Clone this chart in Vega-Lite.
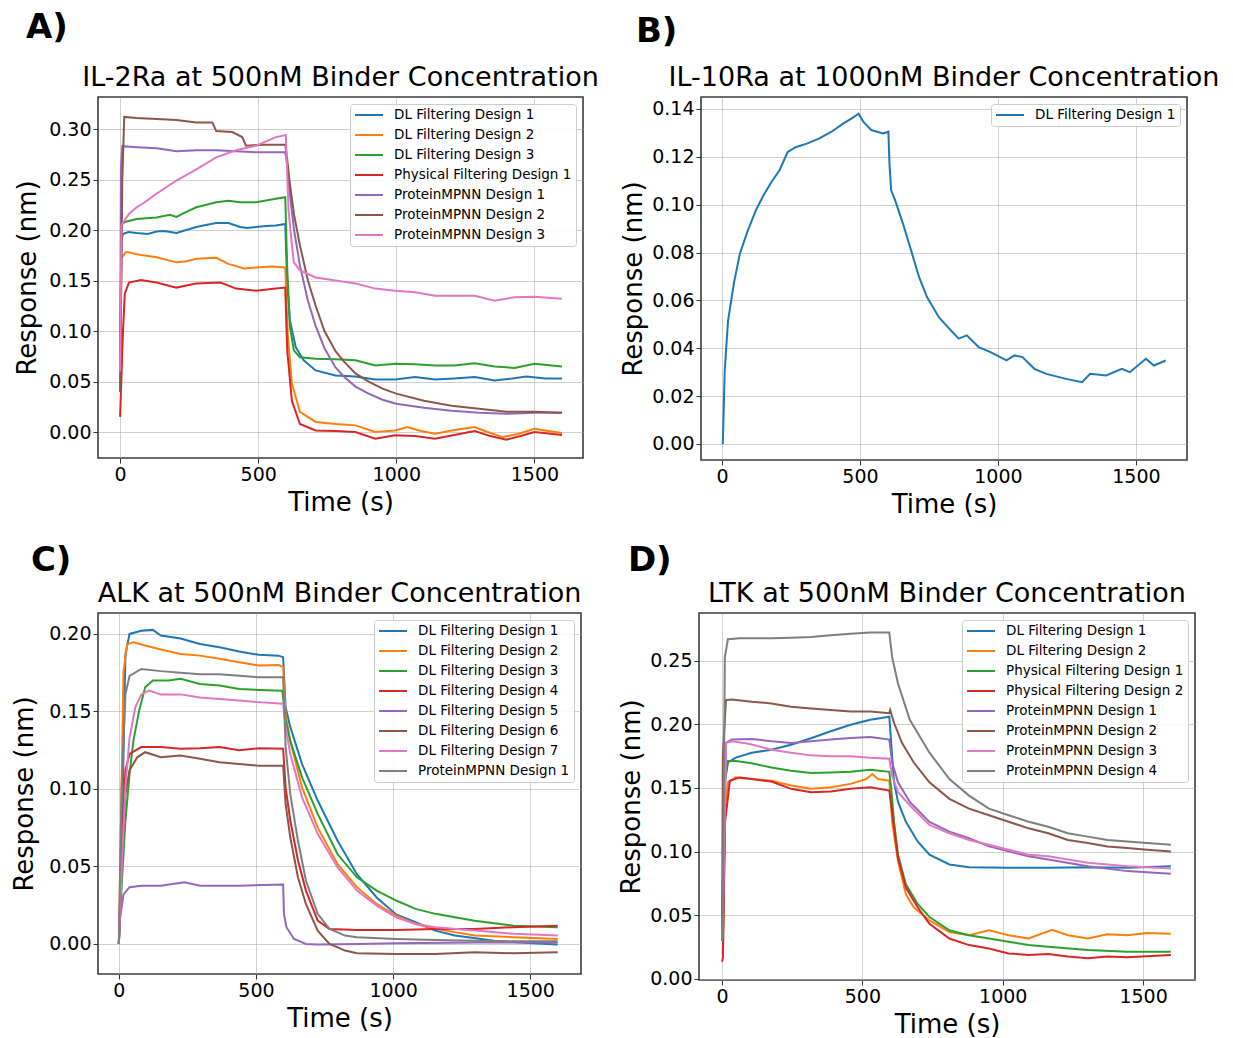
{
"$schema": "https://vega.github.io/schema/vega-lite/v6.json",
"background": "white",
"padding": {"left": 10, "top": 11, "right": 4, "bottom": 2},
"config": {
  "font": "DejaVu Sans",
  "view": {"stroke": "#3c3c3c", "strokeWidth": 1.6},
  "axis": {"labelFont": "DejaVu Sans", "labelFontSize": 19, "labelColor": "#000", "titleFont": "DejaVu Sans", "titleFontSize": 26, "titleFontWeight": "normal", "titleColor": "#000", "gridColor": "#a8a8a8", "gridOpacity": 0.6, "gridWidth": 0.9, "tickColor": "#333", "tickSize": 5, "tickWidth": 1, "domain": false, "labelPadding": 2, "titlePadding": 5},
  "title": {"font": "DejaVu Sans", "fontSize": 27, "fontWeight": "normal", "color": "#000", "offset": 5, "frame": "group", "anchor": "middle"},
  "legend": {"labelFont": "DejaVu Sans", "labelFontSize": 13.5, "labelColor": "#000", "labelLimit": 400, "symbolType": "M-1,0L3.67,0", "symbolSize": 144, "symbolStrokeWidth": 2, "labelOffset": 26, "rowPadding": 6, "padding": 4, "fillColor": "rgba(255,255,255,0.85)", "strokeColor": "#cccccc", "cornerRadius": 3, "offset": 7, "title": null},
  "line": {"strokeWidth": 2}
},
"datasets": {
"A": [
{"s":"DL Filtering Design 1","t":0,"v":0.06},{"s":"DL Filtering Design 1","t":5,"v":0.19},{"s":"DL Filtering Design 1","t":10,"v":0.196},{"s":"DL Filtering Design 1","t":30,"v":0.198},{"s":"DL Filtering Design 1","t":60,"v":0.197},{"s":"DL Filtering Design 1","t":100,"v":0.196},{"s":"DL Filtering Design 1","t":132,"v":0.1985},{"s":"DL Filtering Design 1","t":160,"v":0.199},{"s":"DL Filtering Design 1","t":204,"v":0.197},{"s":"DL Filtering Design 1","t":240,"v":0.2},{"s":"DL Filtering Design 1","t":276,"v":0.203},{"s":"DL Filtering Design 1","t":310,"v":0.205},{"s":"DL Filtering Design 1","t":348,"v":0.207},{"s":"DL Filtering Design 1","t":392,"v":0.207},{"s":"DL Filtering Design 1","t":435,"v":0.203},{"s":"DL Filtering Design 1","t":460,"v":0.202},{"s":"DL Filtering Design 1","t":492,"v":0.203},{"s":"DL Filtering Design 1","t":530,"v":0.204},{"s":"DL Filtering Design 1","t":564,"v":0.2045},{"s":"DL Filtering Design 1","t":598,"v":0.206},{"s":"DL Filtering Design 1","t":605,"v":0.147},{"s":"DL Filtering Design 1","t":615,"v":0.11},{"s":"DL Filtering Design 1","t":636,"v":0.084},{"s":"DL Filtering Design 1","t":665,"v":0.071},{"s":"DL Filtering Design 1","t":708,"v":0.061},{"s":"DL Filtering Design 1","t":780,"v":0.056},{"s":"DL Filtering Design 1","t":852,"v":0.055},{"s":"DL Filtering Design 1","t":924,"v":0.052},{"s":"DL Filtering Design 1","t":996,"v":0.052},{"s":"DL Filtering Design 1","t":1068,"v":0.0545},{"s":"DL Filtering Design 1","t":1140,"v":0.052},{"s":"DL Filtering Design 1","t":1210,"v":0.053},{"s":"DL Filtering Design 1","t":1284,"v":0.0545},{"s":"DL Filtering Design 1","t":1356,"v":0.051},{"s":"DL Filtering Design 1","t":1420,"v":0.053},{"s":"DL Filtering Design 1","t":1471,"v":0.055},{"s":"DL Filtering Design 1","t":1540,"v":0.053},{"s":"DL Filtering Design 1","t":1600,"v":0.053},
{"s":"DL Filtering Design 2","t":0,"v":0.04},{"s":"DL Filtering Design 2","t":5,"v":0.172},{"s":"DL Filtering Design 2","t":20,"v":0.178},{"s":"DL Filtering Design 2","t":32,"v":0.178},{"s":"DL Filtering Design 2","t":60,"v":0.176},{"s":"DL Filtering Design 2","t":132,"v":0.173},{"s":"DL Filtering Design 2","t":204,"v":0.168},{"s":"DL Filtering Design 2","t":240,"v":0.169},{"s":"DL Filtering Design 2","t":276,"v":0.1715},{"s":"DL Filtering Design 2","t":348,"v":0.1725},{"s":"DL Filtering Design 2","t":392,"v":0.1665},{"s":"DL Filtering Design 2","t":449,"v":0.162},{"s":"DL Filtering Design 2","t":492,"v":0.163},{"s":"DL Filtering Design 2","t":550,"v":0.164},{"s":"DL Filtering Design 2","t":598,"v":0.163},{"s":"DL Filtering Design 2","t":607,"v":0.097},{"s":"DL Filtering Design 2","t":622,"v":0.048},{"s":"DL Filtering Design 2","t":651,"v":0.02},{"s":"DL Filtering Design 2","t":708,"v":0.01},{"s":"DL Filtering Design 2","t":780,"v":0.008},{"s":"DL Filtering Design 2","t":852,"v":0.0066},{"s":"DL Filtering Design 2","t":924,"v":0.0},{"s":"DL Filtering Design 2","t":996,"v":0.0016},{"s":"DL Filtering Design 2","t":1040,"v":0.005},{"s":"DL Filtering Design 2","t":1090,"v":0.001},{"s":"DL Filtering Design 2","t":1140,"v":-0.0016},{"s":"DL Filtering Design 2","t":1210,"v":0.002},{"s":"DL Filtering Design 2","t":1284,"v":0.005},{"s":"DL Filtering Design 2","t":1330,"v":0.0},{"s":"DL Filtering Design 2","t":1385,"v":-0.005},{"s":"DL Filtering Design 2","t":1440,"v":-0.002},{"s":"DL Filtering Design 2","t":1500,"v":0.0033},{"s":"DL Filtering Design 2","t":1550,"v":0.001},{"s":"DL Filtering Design 2","t":1600,"v":-0.001},
{"s":"DL Filtering Design 3","t":0,"v":0.07},{"s":"DL Filtering Design 3","t":5,"v":0.205},{"s":"DL Filtering Design 3","t":17,"v":0.208},{"s":"DL Filtering Design 3","t":60,"v":0.211},{"s":"DL Filtering Design 3","t":132,"v":0.2125},{"s":"DL Filtering Design 3","t":180,"v":0.215},{"s":"DL Filtering Design 3","t":204,"v":0.213},{"s":"DL Filtering Design 3","t":240,"v":0.218},{"s":"DL Filtering Design 3","t":276,"v":0.2225},{"s":"DL Filtering Design 3","t":348,"v":0.2275},{"s":"DL Filtering Design 3","t":392,"v":0.229},{"s":"DL Filtering Design 3","t":435,"v":0.2275},{"s":"DL Filtering Design 3","t":492,"v":0.2275},{"s":"DL Filtering Design 3","t":564,"v":0.231},{"s":"DL Filtering Design 3","t":598,"v":0.2325},{"s":"DL Filtering Design 3","t":605,"v":0.163},{"s":"DL Filtering Design 3","t":615,"v":0.104},{"s":"DL Filtering Design 3","t":629,"v":0.081},{"s":"DL Filtering Design 3","t":651,"v":0.074},{"s":"DL Filtering Design 3","t":708,"v":0.0725},{"s":"DL Filtering Design 3","t":780,"v":0.072},{"s":"DL Filtering Design 3","t":852,"v":0.071},{"s":"DL Filtering Design 3","t":924,"v":0.066},{"s":"DL Filtering Design 3","t":996,"v":0.0675},{"s":"DL Filtering Design 3","t":1068,"v":0.067},{"s":"DL Filtering Design 3","t":1140,"v":0.066},{"s":"DL Filtering Design 3","t":1210,"v":0.066},{"s":"DL Filtering Design 3","t":1284,"v":0.068},{"s":"DL Filtering Design 3","t":1356,"v":0.065},{"s":"DL Filtering Design 3","t":1428,"v":0.0635},{"s":"DL Filtering Design 3","t":1500,"v":0.0675},{"s":"DL Filtering Design 3","t":1600,"v":0.065},
{"s":"Physical Filtering Design 1","t":0,"v":0.015},{"s":"Physical Filtering Design 1","t":10,"v":0.097},{"s":"Physical Filtering Design 1","t":17,"v":0.137},{"s":"Physical Filtering Design 1","t":32,"v":0.148},{"s":"Physical Filtering Design 1","t":75,"v":0.1505},{"s":"Physical Filtering Design 1","t":132,"v":0.148},{"s":"Physical Filtering Design 1","t":204,"v":0.143},{"s":"Physical Filtering Design 1","t":240,"v":0.145},{"s":"Physical Filtering Design 1","t":276,"v":0.147},{"s":"Physical Filtering Design 1","t":363,"v":0.148},{"s":"Physical Filtering Design 1","t":420,"v":0.142},{"s":"Physical Filtering Design 1","t":492,"v":0.14},{"s":"Physical Filtering Design 1","t":564,"v":0.142},{"s":"Physical Filtering Design 1","t":598,"v":0.143},{"s":"Physical Filtering Design 1","t":605,"v":0.081},{"s":"Physical Filtering Design 1","t":622,"v":0.031},{"s":"Physical Filtering Design 1","t":651,"v":0.008},{"s":"Physical Filtering Design 1","t":708,"v":0.0016},{"s":"Physical Filtering Design 1","t":780,"v":0.001},{"s":"Physical Filtering Design 1","t":852,"v":0.0},{"s":"Physical Filtering Design 1","t":924,"v":-0.0066},{"s":"Physical Filtering Design 1","t":996,"v":-0.0033},{"s":"Physical Filtering Design 1","t":1068,"v":-0.004},{"s":"Physical Filtering Design 1","t":1140,"v":-0.0066},{"s":"Physical Filtering Design 1","t":1210,"v":-0.003},{"s":"Physical Filtering Design 1","t":1284,"v":0.001},{"s":"Physical Filtering Design 1","t":1340,"v":-0.004},{"s":"Physical Filtering Design 1","t":1399,"v":-0.0076},{"s":"Physical Filtering Design 1","t":1450,"v":-0.004},{"s":"Physical Filtering Design 1","t":1500,"v":0.0},{"s":"Physical Filtering Design 1","t":1600,"v":-0.003},
{"s":"ProteinMPNN Design 1","t":0,"v":0.06},{"s":"ProteinMPNN Design 1","t":3,"v":0.26},{"s":"ProteinMPNN Design 1","t":8,"v":0.283},{"s":"ProteinMPNN Design 1","t":60,"v":0.282},{"s":"ProteinMPNN Design 1","t":132,"v":0.281},{"s":"ProteinMPNN Design 1","t":204,"v":0.278},{"s":"ProteinMPNN Design 1","t":276,"v":0.279},{"s":"ProteinMPNN Design 1","t":348,"v":0.279},{"s":"ProteinMPNN Design 1","t":420,"v":0.278},{"s":"ProteinMPNN Design 1","t":492,"v":0.277},{"s":"ProteinMPNN Design 1","t":564,"v":0.277},{"s":"ProteinMPNN Design 1","t":598,"v":0.277},{"s":"ProteinMPNN Design 1","t":605,"v":0.265},{"s":"ProteinMPNN Design 1","t":615,"v":0.235},{"s":"ProteinMPNN Design 1","t":630,"v":0.2},{"s":"ProteinMPNN Design 1","t":651,"v":0.165},{"s":"ProteinMPNN Design 1","t":680,"v":0.13},{"s":"ProteinMPNN Design 1","t":708,"v":0.105},{"s":"ProteinMPNN Design 1","t":740,"v":0.083},{"s":"ProteinMPNN Design 1","t":780,"v":0.064},{"s":"ProteinMPNN Design 1","t":810,"v":0.055},{"s":"ProteinMPNN Design 1","t":852,"v":0.045},{"s":"ProteinMPNN Design 1","t":900,"v":0.038},{"s":"ProteinMPNN Design 1","t":950,"v":0.032},{"s":"ProteinMPNN Design 1","t":1000,"v":0.028},{"s":"ProteinMPNN Design 1","t":1100,"v":0.024},{"s":"ProteinMPNN Design 1","t":1200,"v":0.021},{"s":"ProteinMPNN Design 1","t":1300,"v":0.019},{"s":"ProteinMPNN Design 1","t":1400,"v":0.018},{"s":"ProteinMPNN Design 1","t":1500,"v":0.019},{"s":"ProteinMPNN Design 1","t":1600,"v":0.019},
{"s":"ProteinMPNN Design 2","t":0,"v":0.04},{"s":"ProteinMPNN Design 2","t":8,"v":0.25},{"s":"ProteinMPNN Design 2","t":15,"v":0.312},{"s":"ProteinMPNN Design 2","t":60,"v":0.311},{"s":"ProteinMPNN Design 2","t":132,"v":0.31},{"s":"ProteinMPNN Design 2","t":204,"v":0.309},{"s":"ProteinMPNN Design 2","t":276,"v":0.3065},{"s":"ProteinMPNN Design 2","t":334,"v":0.3065},{"s":"ProteinMPNN Design 2","t":348,"v":0.298},{"s":"ProteinMPNN Design 2","t":406,"v":0.297},{"s":"ProteinMPNN Design 2","t":442,"v":0.292},{"s":"ProteinMPNN Design 2","t":456,"v":0.2835},{"s":"ProteinMPNN Design 2","t":520,"v":0.2845},{"s":"ProteinMPNN Design 2","t":598,"v":0.2845},{"s":"ProteinMPNN Design 2","t":605,"v":0.27},{"s":"ProteinMPNN Design 2","t":615,"v":0.245},{"s":"ProteinMPNN Design 2","t":630,"v":0.215},{"s":"ProteinMPNN Design 2","t":651,"v":0.185},{"s":"ProteinMPNN Design 2","t":680,"v":0.15},{"s":"ProteinMPNN Design 2","t":708,"v":0.125},{"s":"ProteinMPNN Design 2","t":740,"v":0.1},{"s":"ProteinMPNN Design 2","t":780,"v":0.08},{"s":"ProteinMPNN Design 2","t":810,"v":0.07},{"s":"ProteinMPNN Design 2","t":852,"v":0.058},{"s":"ProteinMPNN Design 2","t":900,"v":0.05},{"s":"ProteinMPNN Design 2","t":950,"v":0.043},{"s":"ProteinMPNN Design 2","t":1000,"v":0.038},{"s":"ProteinMPNN Design 2","t":1100,"v":0.031},{"s":"ProteinMPNN Design 2","t":1200,"v":0.026},{"s":"ProteinMPNN Design 2","t":1300,"v":0.023},{"s":"ProteinMPNN Design 2","t":1400,"v":0.02},{"s":"ProteinMPNN Design 2","t":1500,"v":0.02},{"s":"ProteinMPNN Design 2","t":1600,"v":0.019},
{"s":"ProteinMPNN Design 3","t":0,"v":0.06},{"s":"ProteinMPNN Design 3","t":5,"v":0.205},{"s":"ProteinMPNN Design 3","t":32,"v":0.216},{"s":"ProteinMPNN Design 3","t":60,"v":0.2225},{"s":"ProteinMPNN Design 3","t":89,"v":0.2275},{"s":"ProteinMPNN Design 3","t":132,"v":0.236},{"s":"ProteinMPNN Design 3","t":204,"v":0.249},{"s":"ProteinMPNN Design 3","t":276,"v":0.26},{"s":"ProteinMPNN Design 3","t":348,"v":0.272},{"s":"ProteinMPNN Design 3","t":420,"v":0.279},{"s":"ProteinMPNN Design 3","t":492,"v":0.2835},{"s":"ProteinMPNN Design 3","t":564,"v":0.292},{"s":"ProteinMPNN Design 3","t":600,"v":0.294},{"s":"ProteinMPNN Design 3","t":610,"v":0.22},{"s":"ProteinMPNN Design 3","t":620,"v":0.19},{"s":"ProteinMPNN Design 3","t":629,"v":0.168},{"s":"ProteinMPNN Design 3","t":651,"v":0.16},{"s":"ProteinMPNN Design 3","t":708,"v":0.153},{"s":"ProteinMPNN Design 3","t":780,"v":0.15},{"s":"ProteinMPNN Design 3","t":852,"v":0.147},{"s":"ProteinMPNN Design 3","t":924,"v":0.142},{"s":"ProteinMPNN Design 3","t":996,"v":0.14},{"s":"ProteinMPNN Design 3","t":1068,"v":0.1385},{"s":"ProteinMPNN Design 3","t":1140,"v":0.135},{"s":"ProteinMPNN Design 3","t":1284,"v":0.135},{"s":"ProteinMPNN Design 3","t":1356,"v":0.13},{"s":"ProteinMPNN Design 3","t":1428,"v":0.1335},{"s":"ProteinMPNN Design 3","t":1500,"v":0.134},{"s":"ProteinMPNN Design 3","t":1600,"v":0.132}
],
"B": [
{"s":"DL Filtering Design 1","t":3,"v":0.0},{"s":"DL Filtering Design 1","t":10,"v":0.0307},{"s":"DL Filtering Design 1","t":22,"v":0.0516},{"s":"DL Filtering Design 1","t":43,"v":0.067},{"s":"DL Filtering Design 1","t":65,"v":0.0796},{"s":"DL Filtering Design 1","t":94,"v":0.0893},{"s":"DL Filtering Design 1","t":123,"v":0.0977},{"s":"DL Filtering Design 1","t":151,"v":0.104},{"s":"DL Filtering Design 1","t":180,"v":0.1096},{"s":"DL Filtering Design 1","t":209,"v":0.1145},{"s":"DL Filtering Design 1","t":238,"v":0.122},{"s":"DL Filtering Design 1","t":267,"v":0.124},{"s":"DL Filtering Design 1","t":310,"v":0.1256},{"s":"DL Filtering Design 1","t":353,"v":0.1277},{"s":"DL Filtering Design 1","t":397,"v":0.1305},{"s":"DL Filtering Design 1","t":440,"v":0.134},{"s":"DL Filtering Design 1","t":469,"v":0.136},{"s":"DL Filtering Design 1","t":495,"v":0.138},{"s":"DL Filtering Design 1","t":512,"v":0.1347},{"s":"DL Filtering Design 1","t":541,"v":0.1312},{"s":"DL Filtering Design 1","t":584,"v":0.1298},{"s":"DL Filtering Design 1","t":603,"v":0.1305},{"s":"DL Filtering Design 1","t":607,"v":0.117},{"s":"DL Filtering Design 1","t":613,"v":0.106},{"s":"DL Filtering Design 1","t":627,"v":0.102},{"s":"DL Filtering Design 1","t":656,"v":0.092},{"s":"DL Filtering Design 1","t":685,"v":0.081},{"s":"DL Filtering Design 1","t":714,"v":0.0698},{"s":"DL Filtering Design 1","t":743,"v":0.0614},{"s":"DL Filtering Design 1","t":786,"v":0.053},{"s":"DL Filtering Design 1","t":829,"v":0.0475},{"s":"DL Filtering Design 1","t":858,"v":0.044},{"s":"DL Filtering Design 1","t":887,"v":0.0454},{"s":"DL Filtering Design 1","t":930,"v":0.0405},{"s":"DL Filtering Design 1","t":973,"v":0.0384},{"s":"DL Filtering Design 1","t":1031,"v":0.0349},{"s":"DL Filtering Design 1","t":1060,"v":0.037},{"s":"DL Filtering Design 1","t":1089,"v":0.0363},{"s":"DL Filtering Design 1","t":1132,"v":0.0314},{"s":"DL Filtering Design 1","t":1175,"v":0.0293},{"s":"DL Filtering Design 1","t":1247,"v":0.0272},{"s":"DL Filtering Design 1","t":1305,"v":0.0258},{"s":"DL Filtering Design 1","t":1334,"v":0.0293},{"s":"DL Filtering Design 1","t":1392,"v":0.0286},{"s":"DL Filtering Design 1","t":1449,"v":0.0314},{"s":"DL Filtering Design 1","t":1478,"v":0.03},{"s":"DL Filtering Design 1","t":1536,"v":0.0356},{"s":"DL Filtering Design 1","t":1565,"v":0.0328},{"s":"DL Filtering Design 1","t":1608,"v":0.0349}
],
"C": [
{"s":"DL Filtering Design 1","t":0,"v":0.0},{"s":"DL Filtering Design 1","t":10,"v":0.058},{"s":"DL Filtering Design 1","t":24,"v":0.187},{"s":"DL Filtering Design 1","t":39,"v":0.2},{"s":"DL Filtering Design 1","t":82,"v":0.202},{"s":"DL Filtering Design 1","t":124,"v":0.2026},{"s":"DL Filtering Design 1","t":153,"v":0.199},{"s":"DL Filtering Design 1","t":225,"v":0.197},{"s":"DL Filtering Design 1","t":296,"v":0.1935},{"s":"DL Filtering Design 1","t":367,"v":0.1914},{"s":"DL Filtering Design 1","t":439,"v":0.1886},{"s":"DL Filtering Design 1","t":510,"v":0.1865},{"s":"DL Filtering Design 1","t":582,"v":0.186},{"s":"DL Filtering Design 1","t":599,"v":0.185},{"s":"DL Filtering Design 1","t":608,"v":0.1527},{"s":"DL Filtering Design 1","t":625,"v":0.14},{"s":"DL Filtering Design 1","t":668,"v":0.116},{"s":"DL Filtering Design 1","t":725,"v":0.0925},{"s":"DL Filtering Design 1","t":797,"v":0.0667},{"s":"DL Filtering Design 1","t":868,"v":0.045},{"s":"DL Filtering Design 1","t":940,"v":0.03},{"s":"DL Filtering Design 1","t":1011,"v":0.019},{"s":"DL Filtering Design 1","t":1082,"v":0.014},{"s":"DL Filtering Design 1","t":1154,"v":0.0086},{"s":"DL Filtering Design 1","t":1225,"v":0.0054},{"s":"DL Filtering Design 1","t":1369,"v":0.002},{"s":"DL Filtering Design 1","t":1512,"v":0.0004},{"s":"DL Filtering Design 1","t":1600,"v":-0.0004},
{"s":"DL Filtering Design 2","t":0,"v":0.0},{"s":"DL Filtering Design 2","t":10,"v":0.101},{"s":"DL Filtering Design 2","t":17,"v":0.176},{"s":"DL Filtering Design 2","t":31,"v":0.1935},{"s":"DL Filtering Design 2","t":53,"v":0.1946},{"s":"DL Filtering Design 2","t":96,"v":0.1925},{"s":"DL Filtering Design 2","t":153,"v":0.19},{"s":"DL Filtering Design 2","t":225,"v":0.187},{"s":"DL Filtering Design 2","t":296,"v":0.186},{"s":"DL Filtering Design 2","t":367,"v":0.184},{"s":"DL Filtering Design 2","t":439,"v":0.1817},{"s":"DL Filtering Design 2","t":510,"v":0.1796},{"s":"DL Filtering Design 2","t":582,"v":0.18},{"s":"DL Filtering Design 2","t":599,"v":0.1785},{"s":"DL Filtering Design 2","t":608,"v":0.148},{"s":"DL Filtering Design 2","t":625,"v":0.131},{"s":"DL Filtering Design 2","t":668,"v":0.101},{"s":"DL Filtering Design 2","t":725,"v":0.075},{"s":"DL Filtering Design 2","t":797,"v":0.0516},{"s":"DL Filtering Design 2","t":868,"v":0.0366},{"s":"DL Filtering Design 2","t":940,"v":0.0258},{"s":"DL Filtering Design 2","t":1011,"v":0.0183},{"s":"DL Filtering Design 2","t":1082,"v":0.0129},{"s":"DL Filtering Design 2","t":1154,"v":0.0097},{"s":"DL Filtering Design 2","t":1297,"v":0.0054},{"s":"DL Filtering Design 2","t":1440,"v":0.0043},{"s":"DL Filtering Design 2","t":1600,"v":0.0032},
{"s":"DL Filtering Design 3","t":0,"v":0.0},{"s":"DL Filtering Design 3","t":10,"v":0.0366},{"s":"DL Filtering Design 3","t":24,"v":0.0796},{"s":"DL Filtering Design 3","t":39,"v":0.1097},{"s":"DL Filtering Design 3","t":53,"v":0.131},{"s":"DL Filtering Design 3","t":74,"v":0.1505},{"s":"DL Filtering Design 3","t":96,"v":0.1656},{"s":"DL Filtering Design 3","t":124,"v":0.17},{"s":"DL Filtering Design 3","t":182,"v":0.17},{"s":"DL Filtering Design 3","t":225,"v":0.171},{"s":"DL Filtering Design 3","t":296,"v":0.1677},{"s":"DL Filtering Design 3","t":367,"v":0.1667},{"s":"DL Filtering Design 3","t":439,"v":0.1645},{"s":"DL Filtering Design 3","t":510,"v":0.1639},{"s":"DL Filtering Design 3","t":596,"v":0.1634},{"s":"DL Filtering Design 3","t":608,"v":0.144},{"s":"DL Filtering Design 3","t":625,"v":0.131},{"s":"DL Filtering Design 3","t":668,"v":0.1075},{"s":"DL Filtering Design 3","t":725,"v":0.0839},{"s":"DL Filtering Design 3","t":797,"v":0.058},{"s":"DL Filtering Design 3","t":868,"v":0.043},{"s":"DL Filtering Design 3","t":940,"v":0.0344},{"s":"DL Filtering Design 3","t":1011,"v":0.028},{"s":"DL Filtering Design 3","t":1082,"v":0.0226},{"s":"DL Filtering Design 3","t":1154,"v":0.0194},{"s":"DL Filtering Design 3","t":1225,"v":0.0172},{"s":"DL Filtering Design 3","t":1297,"v":0.015},{"s":"DL Filtering Design 3","t":1440,"v":0.0118},{"s":"DL Filtering Design 3","t":1600,"v":0.0108},
{"s":"DL Filtering Design 4","t":0,"v":0.0},{"s":"DL Filtering Design 4","t":10,"v":0.058},{"s":"DL Filtering Design 4","t":24,"v":0.112},{"s":"DL Filtering Design 4","t":39,"v":0.1226},{"s":"DL Filtering Design 4","t":82,"v":0.127},{"s":"DL Filtering Design 4","t":153,"v":0.127},{"s":"DL Filtering Design 4","t":225,"v":0.126},{"s":"DL Filtering Design 4","t":296,"v":0.1262},{"s":"DL Filtering Design 4","t":367,"v":0.127},{"s":"DL Filtering Design 4","t":439,"v":0.125},{"s":"DL Filtering Design 4","t":510,"v":0.1262},{"s":"DL Filtering Design 4","t":599,"v":0.126},{"s":"DL Filtering Design 4","t":608,"v":0.101},{"s":"DL Filtering Design 4","t":625,"v":0.0796},{"s":"DL Filtering Design 4","t":653,"v":0.054},{"s":"DL Filtering Design 4","t":682,"v":0.0344},{"s":"DL Filtering Design 4","t":725,"v":0.015},{"s":"DL Filtering Design 4","t":768,"v":0.0097},{"s":"DL Filtering Design 4","t":868,"v":0.009},{"s":"DL Filtering Design 4","t":1011,"v":0.009},{"s":"DL Filtering Design 4","t":1154,"v":0.0097},{"s":"DL Filtering Design 4","t":1297,"v":0.0097},{"s":"DL Filtering Design 4","t":1440,"v":0.0108},{"s":"DL Filtering Design 4","t":1600,"v":0.0118},
{"s":"DL Filtering Design 5","t":0,"v":0.0},{"s":"DL Filtering Design 5","t":3,"v":0.015},{"s":"DL Filtering Design 5","t":17,"v":0.032},{"s":"DL Filtering Design 5","t":39,"v":0.0366},{"s":"DL Filtering Design 5","t":82,"v":0.0376},{"s":"DL Filtering Design 5","t":153,"v":0.0376},{"s":"DL Filtering Design 5","t":239,"v":0.0398},{"s":"DL Filtering Design 5","t":296,"v":0.0376},{"s":"DL Filtering Design 5","t":439,"v":0.0376},{"s":"DL Filtering Design 5","t":599,"v":0.0383},{"s":"DL Filtering Design 5","t":602,"v":0.0194},{"s":"DL Filtering Design 5","t":611,"v":0.0108},{"s":"DL Filtering Design 5","t":639,"v":0.0032},{"s":"DL Filtering Design 5","t":682,"v":0.0},{"s":"DL Filtering Design 5","t":725,"v":-0.0004},{"s":"DL Filtering Design 5","t":868,"v":0.0},{"s":"DL Filtering Design 5","t":1011,"v":0.0004},{"s":"DL Filtering Design 5","t":1297,"v":0.001},{"s":"DL Filtering Design 5","t":1600,"v":0.001},
{"s":"DL Filtering Design 6","t":0,"v":0.0},{"s":"DL Filtering Design 6","t":10,"v":0.047},{"s":"DL Filtering Design 6","t":24,"v":0.0968},{"s":"DL Filtering Design 6","t":39,"v":0.112},{"s":"DL Filtering Design 6","t":67,"v":0.1204},{"s":"DL Filtering Design 6","t":96,"v":0.1237},{"s":"DL Filtering Design 6","t":153,"v":0.1204},{"s":"DL Filtering Design 6","t":225,"v":0.1215},{"s":"DL Filtering Design 6","t":296,"v":0.1194},{"s":"DL Filtering Design 6","t":367,"v":0.1172},{"s":"DL Filtering Design 6","t":439,"v":0.1161},{"s":"DL Filtering Design 6","t":510,"v":0.115},{"s":"DL Filtering Design 6","t":599,"v":0.115},{"s":"DL Filtering Design 6","t":608,"v":0.0903},{"s":"DL Filtering Design 6","t":625,"v":0.0688},{"s":"DL Filtering Design 6","t":653,"v":0.043},{"s":"DL Filtering Design 6","t":682,"v":0.0258},{"s":"DL Filtering Design 6","t":725,"v":0.0086},{"s":"DL Filtering Design 6","t":768,"v":0.0},{"s":"DL Filtering Design 6","t":825,"v":-0.0043},{"s":"DL Filtering Design 6","t":868,"v":-0.006},{"s":"DL Filtering Design 6","t":1011,"v":-0.0065},{"s":"DL Filtering Design 6","t":1154,"v":-0.0065},{"s":"DL Filtering Design 6","t":1297,"v":-0.0054},{"s":"DL Filtering Design 6","t":1440,"v":-0.006},{"s":"DL Filtering Design 6","t":1600,"v":-0.0054},
{"s":"DL Filtering Design 7","t":0,"v":0.0},{"s":"DL Filtering Design 7","t":10,"v":0.047},{"s":"DL Filtering Design 7","t":24,"v":0.101},{"s":"DL Filtering Design 7","t":39,"v":0.133},{"s":"DL Filtering Design 7","t":60,"v":0.1527},{"s":"DL Filtering Design 7","t":82,"v":0.161},{"s":"DL Filtering Design 7","t":110,"v":0.1634},{"s":"DL Filtering Design 7","t":153,"v":0.161},{"s":"DL Filtering Design 7","t":225,"v":0.161},{"s":"DL Filtering Design 7","t":296,"v":0.159},{"s":"DL Filtering Design 7","t":367,"v":0.158},{"s":"DL Filtering Design 7","t":439,"v":0.157},{"s":"DL Filtering Design 7","t":510,"v":0.156},{"s":"DL Filtering Design 7","t":599,"v":0.155},{"s":"DL Filtering Design 7","t":608,"v":0.14},{"s":"DL Filtering Design 7","t":625,"v":0.1226},{"s":"DL Filtering Design 7","t":668,"v":0.0946},{"s":"DL Filtering Design 7","t":725,"v":0.071},{"s":"DL Filtering Design 7","t":797,"v":0.0495},{"s":"DL Filtering Design 7","t":868,"v":0.0344},{"s":"DL Filtering Design 7","t":940,"v":0.0247},{"s":"DL Filtering Design 7","t":1011,"v":0.0172},{"s":"DL Filtering Design 7","t":1082,"v":0.0129},{"s":"DL Filtering Design 7","t":1154,"v":0.0108},{"s":"DL Filtering Design 7","t":1297,"v":0.0086},{"s":"DL Filtering Design 7","t":1440,"v":0.0065},{"s":"DL Filtering Design 7","t":1600,"v":0.0054},
{"s":"ProteinMPNN Design 1","t":0,"v":0.0},{"s":"ProteinMPNN Design 1","t":10,"v":0.101},{"s":"ProteinMPNN Design 1","t":24,"v":0.161},{"s":"ProteinMPNN Design 1","t":39,"v":0.173},{"s":"ProteinMPNN Design 1","t":82,"v":0.1774},{"s":"ProteinMPNN Design 1","t":153,"v":0.176},{"s":"ProteinMPNN Design 1","t":225,"v":0.175},{"s":"ProteinMPNN Design 1","t":296,"v":0.174},{"s":"ProteinMPNN Design 1","t":367,"v":0.174},{"s":"ProteinMPNN Design 1","t":439,"v":0.173},{"s":"ProteinMPNN Design 1","t":510,"v":0.172},{"s":"ProteinMPNN Design 1","t":599,"v":0.172},{"s":"ProteinMPNN Design 1","t":608,"v":0.127},{"s":"ProteinMPNN Design 1","t":625,"v":0.0968},{"s":"ProteinMPNN Design 1","t":653,"v":0.0667},{"s":"ProteinMPNN Design 1","t":682,"v":0.0409},{"s":"ProteinMPNN Design 1","t":725,"v":0.0194},{"s":"ProteinMPNN Design 1","t":768,"v":0.0097},{"s":"ProteinMPNN Design 1","t":825,"v":0.0054},{"s":"ProteinMPNN Design 1","t":868,"v":0.0043},{"s":"ProteinMPNN Design 1","t":1011,"v":0.0032},{"s":"ProteinMPNN Design 1","t":1154,"v":0.0026},{"s":"ProteinMPNN Design 1","t":1297,"v":0.002},{"s":"ProteinMPNN Design 1","t":1440,"v":0.0017},{"s":"ProteinMPNN Design 1","t":1600,"v":0.0017}
],
"D": [
{"s":"DL Filtering Design 1","t":0,"v":0.03},{"s":"DL Filtering Design 1","t":3,"v":0.072},{"s":"DL Filtering Design 1","t":10,"v":0.1544},{"s":"DL Filtering Design 1","t":21,"v":0.17},{"s":"DL Filtering Design 1","t":49,"v":0.1738},{"s":"DL Filtering Design 1","t":106,"v":0.1777},{"s":"DL Filtering Design 1","t":176,"v":0.18},{"s":"DL Filtering Design 1","t":246,"v":0.184},{"s":"DL Filtering Design 1","t":317,"v":0.189},{"s":"DL Filtering Design 1","t":387,"v":0.1945},{"s":"DL Filtering Design 1","t":458,"v":0.1996},{"s":"DL Filtering Design 1","t":528,"v":0.2035},{"s":"DL Filtering Design 1","t":596,"v":0.206},{"s":"DL Filtering Design 1","t":606,"v":0.175},{"s":"DL Filtering Design 1","t":613,"v":0.1544},{"s":"DL Filtering Design 1","t":627,"v":0.139},{"s":"DL Filtering Design 1","t":655,"v":0.1234},{"s":"DL Filtering Design 1","t":697,"v":0.108},{"s":"DL Filtering Design 1","t":739,"v":0.0976},{"s":"DL Filtering Design 1","t":810,"v":0.0899},{"s":"DL Filtering Design 1","t":880,"v":0.0878},{"s":"DL Filtering Design 1","t":1021,"v":0.0873},{"s":"DL Filtering Design 1","t":1162,"v":0.0873},{"s":"DL Filtering Design 1","t":1303,"v":0.0878},{"s":"DL Filtering Design 1","t":1444,"v":0.0873},{"s":"DL Filtering Design 1","t":1599,"v":0.0886},
{"s":"DL Filtering Design 2","t":0,"v":0.02},{"s":"DL Filtering Design 2","t":3,"v":0.02},{"s":"DL Filtering Design 2","t":11,"v":0.1338},{"s":"DL Filtering Design 2","t":21,"v":0.1544},{"s":"DL Filtering Design 2","t":49,"v":0.1583},{"s":"DL Filtering Design 2","t":106,"v":0.157},{"s":"DL Filtering Design 2","t":176,"v":0.1557},{"s":"DL Filtering Design 2","t":246,"v":0.1519},{"s":"DL Filtering Design 2","t":317,"v":0.1493},{"s":"DL Filtering Design 2","t":387,"v":0.1506},{"s":"DL Filtering Design 2","t":458,"v":0.1532},{"s":"DL Filtering Design 2","t":514,"v":0.157},{"s":"DL Filtering Design 2","t":535,"v":0.1609},{"s":"DL Filtering Design 2","t":556,"v":0.157},{"s":"DL Filtering Design 2","t":596,"v":0.1557},{"s":"DL Filtering Design 2","t":606,"v":0.1234},{"s":"DL Filtering Design 2","t":627,"v":0.0925},{"s":"DL Filtering Design 2","t":655,"v":0.0666},{"s":"DL Filtering Design 2","t":683,"v":0.0563},{"s":"DL Filtering Design 2","t":739,"v":0.046},{"s":"DL Filtering Design 2","t":810,"v":0.0369},{"s":"DL Filtering Design 2","t":880,"v":0.0343},{"s":"DL Filtering Design 2","t":951,"v":0.0382},{"s":"DL Filtering Design 2","t":1021,"v":0.0343},{"s":"DL Filtering Design 2","t":1092,"v":0.0318},{"s":"DL Filtering Design 2","t":1176,"v":0.0387},{"s":"DL Filtering Design 2","t":1232,"v":0.0343},{"s":"DL Filtering Design 2","t":1303,"v":0.0318},{"s":"DL Filtering Design 2","t":1373,"v":0.0351},{"s":"DL Filtering Design 2","t":1444,"v":0.0343},{"s":"DL Filtering Design 2","t":1514,"v":0.0362},{"s":"DL Filtering Design 2","t":1599,"v":0.0356},
{"s":"Physical Filtering Design 1","t":0,"v":0.02},{"s":"Physical Filtering Design 1","t":3,"v":0.02},{"s":"Physical Filtering Design 1","t":11,"v":0.1596},{"s":"Physical Filtering Design 1","t":21,"v":0.1712},{"s":"Physical Filtering Design 1","t":49,"v":0.1712},{"s":"Physical Filtering Design 1","t":106,"v":0.1694},{"s":"Physical Filtering Design 1","t":176,"v":0.166},{"s":"Physical Filtering Design 1","t":246,"v":0.1635},{"s":"Physical Filtering Design 1","t":317,"v":0.1617},{"s":"Physical Filtering Design 1","t":387,"v":0.1622},{"s":"Physical Filtering Design 1","t":458,"v":0.1627},{"s":"Physical Filtering Design 1","t":528,"v":0.1643},{"s":"Physical Filtering Design 1","t":596,"v":0.1627},{"s":"Physical Filtering Design 1","t":603,"v":0.149},{"s":"Physical Filtering Design 1","t":613,"v":0.1234},{"s":"Physical Filtering Design 1","t":627,"v":0.0976},{"s":"Physical Filtering Design 1","t":655,"v":0.0744},{"s":"Physical Filtering Design 1","t":697,"v":0.0589},{"s":"Physical Filtering Design 1","t":739,"v":0.0486},{"s":"Physical Filtering Design 1","t":810,"v":0.0382},{"s":"Physical Filtering Design 1","t":880,"v":0.0343},{"s":"Physical Filtering Design 1","t":951,"v":0.0318},{"s":"Physical Filtering Design 1","t":1021,"v":0.0292},{"s":"Physical Filtering Design 1","t":1092,"v":0.0266},{"s":"Physical Filtering Design 1","t":1162,"v":0.0253},{"s":"Physical Filtering Design 1","t":1303,"v":0.0227},{"s":"Physical Filtering Design 1","t":1444,"v":0.0214},{"s":"Physical Filtering Design 1","t":1599,"v":0.0214},
{"s":"Physical Filtering Design 2","t":0,"v":0.0135},{"s":"Physical Filtering Design 2","t":3,"v":0.0163},{"s":"Physical Filtering Design 2","t":11,"v":0.1234},{"s":"Physical Filtering Design 2","t":28,"v":0.1557},{"s":"Physical Filtering Design 2","t":63,"v":0.1583},{"s":"Physical Filtering Design 2","t":106,"v":0.157},{"s":"Physical Filtering Design 2","t":176,"v":0.155},{"s":"Physical Filtering Design 2","t":246,"v":0.1493},{"s":"Physical Filtering Design 2","t":317,"v":0.1467},{"s":"Physical Filtering Design 2","t":387,"v":0.1472},{"s":"Physical Filtering Design 2","t":458,"v":0.1493},{"s":"Physical Filtering Design 2","t":528,"v":0.1506},{"s":"Physical Filtering Design 2","t":596,"v":0.148},{"s":"Physical Filtering Design 2","t":603,"v":0.1364},{"s":"Physical Filtering Design 2","t":613,"v":0.1183},{"s":"Physical Filtering Design 2","t":627,"v":0.095},{"s":"Physical Filtering Design 2","t":655,"v":0.0718},{"s":"Physical Filtering Design 2","t":697,"v":0.0563},{"s":"Physical Filtering Design 2","t":739,"v":0.0434},{"s":"Physical Filtering Design 2","t":810,"v":0.0318},{"s":"Physical Filtering Design 2","t":880,"v":0.0266},{"s":"Physical Filtering Design 2","t":951,"v":0.024},{"s":"Physical Filtering Design 2","t":1021,"v":0.0201},{"s":"Physical Filtering Design 2","t":1092,"v":0.0189},{"s":"Physical Filtering Design 2","t":1162,"v":0.0196},{"s":"Physical Filtering Design 2","t":1232,"v":0.0176},{"s":"Physical Filtering Design 2","t":1303,"v":0.0163},{"s":"Physical Filtering Design 2","t":1373,"v":0.0176},{"s":"Physical Filtering Design 2","t":1444,"v":0.017},{"s":"Physical Filtering Design 2","t":1599,"v":0.0189},
{"s":"ProteinMPNN Design 1","t":0,"v":0.03},{"s":"ProteinMPNN Design 1","t":3,"v":0.041},{"s":"ProteinMPNN Design 1","t":14,"v":0.1854},{"s":"ProteinMPNN Design 1","t":35,"v":0.188},{"s":"ProteinMPNN Design 1","t":106,"v":0.1885},{"s":"ProteinMPNN Design 1","t":176,"v":0.1867},{"s":"ProteinMPNN Design 1","t":246,"v":0.1854},{"s":"ProteinMPNN Design 1","t":317,"v":0.1867},{"s":"ProteinMPNN Design 1","t":387,"v":0.188},{"s":"ProteinMPNN Design 1","t":458,"v":0.1893},{"s":"ProteinMPNN Design 1","t":528,"v":0.19},{"s":"ProteinMPNN Design 1","t":596,"v":0.188},{"s":"ProteinMPNN Design 1","t":606,"v":0.17},{"s":"ProteinMPNN Design 1","t":627,"v":0.1544},{"s":"ProteinMPNN Design 1","t":669,"v":0.139},{"s":"ProteinMPNN Design 1","t":739,"v":0.1234},{"s":"ProteinMPNN Design 1","t":810,"v":0.1157},{"s":"ProteinMPNN Design 1","t":880,"v":0.1105},{"s":"ProteinMPNN Design 1","t":951,"v":0.1041},{"s":"ProteinMPNN Design 1","t":1021,"v":0.1002},{"s":"ProteinMPNN Design 1","t":1092,"v":0.0963},{"s":"ProteinMPNN Design 1","t":1162,"v":0.0938},{"s":"ProteinMPNN Design 1","t":1303,"v":0.0886},{"s":"ProteinMPNN Design 1","t":1444,"v":0.0847},{"s":"ProteinMPNN Design 1","t":1599,"v":0.0826},
{"s":"ProteinMPNN Design 2","t":0,"v":0.03},{"s":"ProteinMPNN Design 2","t":3,"v":0.175},{"s":"ProteinMPNN Design 2","t":14,"v":0.219},{"s":"ProteinMPNN Design 2","t":35,"v":0.2195},{"s":"ProteinMPNN Design 2","t":106,"v":0.2177},{"s":"ProteinMPNN Design 2","t":176,"v":0.2164},{"s":"ProteinMPNN Design 2","t":246,"v":0.2138},{"s":"ProteinMPNN Design 2","t":317,"v":0.2125},{"s":"ProteinMPNN Design 2","t":387,"v":0.2113},{"s":"ProteinMPNN Design 2","t":458,"v":0.21},{"s":"ProteinMPNN Design 2","t":528,"v":0.21},{"s":"ProteinMPNN Design 2","t":596,"v":0.2087},{"s":"ProteinMPNN Design 2","t":599,"v":0.2113},{"s":"ProteinMPNN Design 2","t":613,"v":0.201},{"s":"ProteinMPNN Design 2","t":641,"v":0.1854},{"s":"ProteinMPNN Design 2","t":683,"v":0.17},{"s":"ProteinMPNN Design 2","t":739,"v":0.1544},{"s":"ProteinMPNN Design 2","t":810,"v":0.1415},{"s":"ProteinMPNN Design 2","t":880,"v":0.1338},{"s":"ProteinMPNN Design 2","t":951,"v":0.1286},{"s":"ProteinMPNN Design 2","t":1021,"v":0.1235},{"s":"ProteinMPNN Design 2","t":1092,"v":0.1183},{"s":"ProteinMPNN Design 2","t":1162,"v":0.1144},{"s":"ProteinMPNN Design 2","t":1232,"v":0.1092},{"s":"ProteinMPNN Design 2","t":1303,"v":0.1067},{"s":"ProteinMPNN Design 2","t":1373,"v":0.1041},{"s":"ProteinMPNN Design 2","t":1444,"v":0.1028},{"s":"ProteinMPNN Design 2","t":1514,"v":0.1015},{"s":"ProteinMPNN Design 2","t":1599,"v":0.1002},
{"s":"ProteinMPNN Design 3","t":0,"v":0.03},{"s":"ProteinMPNN Design 3","t":3,"v":0.051},{"s":"ProteinMPNN Design 3","t":14,"v":0.1854},{"s":"ProteinMPNN Design 3","t":35,"v":0.1867},{"s":"ProteinMPNN Design 3","t":77,"v":0.1854},{"s":"ProteinMPNN Design 3","t":106,"v":0.1841},{"s":"ProteinMPNN Design 3","t":176,"v":0.18},{"s":"ProteinMPNN Design 3","t":246,"v":0.1777},{"s":"ProteinMPNN Design 3","t":317,"v":0.1756},{"s":"ProteinMPNN Design 3","t":387,"v":0.175},{"s":"ProteinMPNN Design 3","t":458,"v":0.175},{"s":"ProteinMPNN Design 3","t":528,"v":0.1738},{"s":"ProteinMPNN Design 3","t":596,"v":0.173},{"s":"ProteinMPNN Design 3","t":606,"v":0.1596},{"s":"ProteinMPNN Design 3","t":627,"v":0.1467},{"s":"ProteinMPNN Design 3","t":669,"v":0.1364},{"s":"ProteinMPNN Design 3","t":739,"v":0.1209},{"s":"ProteinMPNN Design 3","t":810,"v":0.1144},{"s":"ProteinMPNN Design 3","t":880,"v":0.1092},{"s":"ProteinMPNN Design 3","t":951,"v":0.1054},{"s":"ProteinMPNN Design 3","t":1021,"v":0.1015},{"s":"ProteinMPNN Design 3","t":1092,"v":0.0976},{"s":"ProteinMPNN Design 3","t":1162,"v":0.0963},{"s":"ProteinMPNN Design 3","t":1303,"v":0.0912},{"s":"ProteinMPNN Design 3","t":1444,"v":0.0886},{"s":"ProteinMPNN Design 3","t":1599,"v":0.0868},
{"s":"ProteinMPNN Design 4","t":0,"v":0.03},{"s":"ProteinMPNN Design 4","t":3,"v":0.046},{"s":"ProteinMPNN Design 4","t":10,"v":0.2526},{"s":"ProteinMPNN Design 4","t":21,"v":0.2668},{"s":"ProteinMPNN Design 4","t":63,"v":0.2676},{"s":"ProteinMPNN Design 4","t":176,"v":0.2676},{"s":"ProteinMPNN Design 4","t":246,"v":0.268},{"s":"ProteinMPNN Design 4","t":317,"v":0.2686},{"s":"ProteinMPNN Design 4","t":387,"v":0.27},{"s":"ProteinMPNN Design 4","t":458,"v":0.2712},{"s":"ProteinMPNN Design 4","t":528,"v":0.272},{"s":"ProteinMPNN Design 4","t":596,"v":0.272},{"s":"ProteinMPNN Design 4","t":606,"v":0.2526},{"s":"ProteinMPNN Design 4","t":627,"v":0.232},{"s":"ProteinMPNN Design 4","t":669,"v":0.2035},{"s":"ProteinMPNN Design 4","t":739,"v":0.1777},{"s":"ProteinMPNN Design 4","t":810,"v":0.157},{"s":"ProteinMPNN Design 4","t":880,"v":0.144},{"s":"ProteinMPNN Design 4","t":951,"v":0.1338},{"s":"ProteinMPNN Design 4","t":1021,"v":0.1286},{"s":"ProteinMPNN Design 4","t":1092,"v":0.1235},{"s":"ProteinMPNN Design 4","t":1162,"v":0.1196},{"s":"ProteinMPNN Design 4","t":1232,"v":0.1144},{"s":"ProteinMPNN Design 4","t":1303,"v":0.1118},{"s":"ProteinMPNN Design 4","t":1373,"v":0.1092},{"s":"ProteinMPNN Design 4","t":1444,"v":0.108},{"s":"ProteinMPNN Design 4","t":1514,"v":0.1067},{"s":"ProteinMPNN Design 4","t":1599,"v":0.1054}
]
},
"resolve": {"scale": {"color": "independent"}, "legend": {"color": "independent"}},
"columns": 1,
"align": "none",
"spacing": 26,
"concat": [
 {"concat": [
  {"title": {"text": "A)", "anchor": "start", "frame": "bounds", "fontSize": 34, "fontWeight": "bold", "dx": 12, "offset": 18},
   "resolve": {"scale": {"color": "independent"}, "legend": {"color": "independent"}},
   "vconcat": [{
    "width": 485, "height": 361,
    "title": "IL-2Ra at 500nM Binder Concentration",
    "data": {"name": "A"},
    "mark": {"type": "line", "clip": true},
    "encoding": {
     "x": {"field": "t", "type": "quantitative", "scale": {"domain": [-80, 1676], "nice": false, "zero": false}, "axis": {"values": [0, 500, 1000, 1500], "format": "d", "title": "Time (s)"}},
     "y": {"field": "v", "type": "quantitative", "scale": {"domain": [-0.0257, 0.3317], "nice": false, "zero": false}, "axis": {"values": [0, 0.05, 0.1, 0.15, 0.2, 0.25, 0.3], "format": ".2f", "title": "Response (nm)", "titlePadding": 8}},
     "color": {"field": "s", "type": "nominal", "scale": {"range": ["#1f77b4", "#ff7f0e", "#2ca02c", "#d62728", "#9467bd", "#8c564b", "#e377c2", "#7f7f7f"]}, "legend": {"orient": "top-right"}}
    }
   }]},
  {"title": {"text": "B)", "anchor": "start", "frame": "bounds", "fontSize": 34, "fontWeight": "bold", "dx": 16, "offset": 14},
   "resolve": {"scale": {"color": "independent"}, "legend": {"color": "independent"}},
   "vconcat": [{
    "width": 486, "height": 363,
    "title": "IL-10Ra at 1000nM Binder Concentration",
    "data": {"name": "B"},
    "mark": {"type": "line", "clip": true},
    "encoding": {
     "x": {"field": "t", "type": "quantitative", "scale": {"domain": [-76, 1685], "nice": false, "zero": false}, "axis": {"values": [0, 500, 1000, 1500], "format": "d", "title": "Time (s)"}},
     "y": {"field": "v", "type": "quantitative", "scale": {"domain": [-0.0067, 0.145], "nice": false, "zero": false}, "axis": {"values": [0, 0.02, 0.04, 0.06, 0.08, 0.1, 0.12, 0.14], "format": ".2f", "title": "Response (nm)"}},
     "color": {"field": "s", "type": "nominal", "scale": {"range": ["#1f77b4"]}, "legend": {"orient": "top-right"}}
    }
   }]}
 ], "columns": 2, "align": "none", "spacing": 19, "resolve": {"scale": {"color": "independent"}, "legend": {"color": "independent"}}},
 {"concat": [
  {"title": {"text": "C)", "anchor": "start", "frame": "bounds", "fontSize": 34, "fontWeight": "bold", "dx": 20, "offset": 1},
   "resolve": {"scale": {"color": "independent"}, "legend": {"color": "independent"}},
   "vconcat": [{
    "width": 483, "height": 361,
    "title": "ALK at 500nM Binder Concentration",
    "data": {"name": "C"},
    "mark": {"type": "line", "clip": true},
    "encoding": {
     "x": {"field": "t", "type": "quantitative", "scale": {"domain": [-76, 1685], "nice": false, "zero": false}, "axis": {"values": [0, 500, 1000, 1500], "format": "d", "title": "Time (s)"}},
     "y": {"field": "v", "type": "quantitative", "scale": {"domain": [-0.0194, 0.2135], "nice": false, "zero": false}, "axis": {"values": [0, 0.05, 0.1, 0.15, 0.2], "format": ".2f", "title": "Response (nm)", "titlePadding": 11}},
     "color": {"field": "s", "type": "nominal", "scale": {"range": ["#1f77b4", "#ff7f0e", "#2ca02c", "#d62728", "#9467bd", "#8c564b", "#e377c2", "#7f7f7f"]}, "legend": {"orient": "top-right"}}
    }
   }]},
  {"title": {"text": "D)", "anchor": "start", "frame": "bounds", "fontSize": 34, "fontWeight": "bold", "dx": 10, "offset": 1},
   "resolve": {"scale": {"color": "independent"}, "legend": {"color": "independent"}},
   "vconcat": [{
    "width": 496, "height": 367,
    "title": "LTK at 500nM Binder Concentration",
    "data": {"name": "D"},
    "mark": {"type": "line", "clip": true},
    "encoding": {
     "x": {"field": "t", "type": "quantitative", "scale": {"domain": [-82, 1685], "nice": false, "zero": false}, "axis": {"values": [0, 500, 1000, 1500], "format": "d", "title": "Time (s)"}},
     "y": {"field": "v", "type": "quantitative", "scale": {"domain": [-0.0008, 0.2874], "nice": false, "zero": false}, "axis": {"values": [0, 0.05, 0.1, 0.15, 0.2, 0.25], "format": ".2f", "title": "Response (nm)"}},
     "color": {"field": "s", "type": "nominal", "scale": {"range": ["#1f77b4", "#ff7f0e", "#2ca02c", "#d62728", "#9467bd", "#8c564b", "#e377c2", "#7f7f7f"]}, "legend": {"orient": "top-right"}}
    }
   }]}
 ], "columns": 2, "align": "none", "spacing": 34, "resolve": {"scale": {"color": "independent"}, "legend": {"color": "independent"}}}
]
}
